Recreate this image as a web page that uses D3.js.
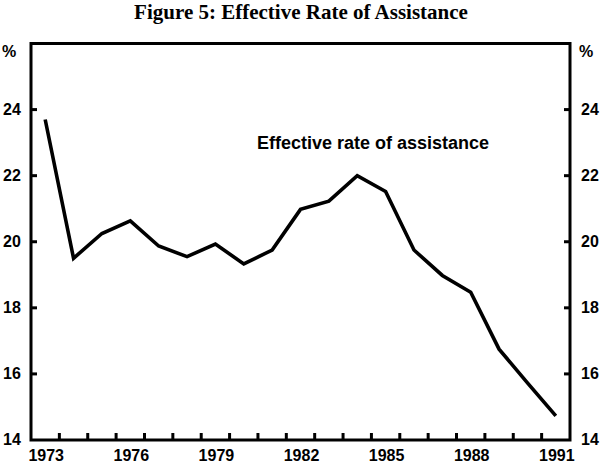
<!DOCTYPE html>
<html>
<head>
<meta charset="utf-8">
<script src="https://cdn.jsdelivr.net/npm/d3@7"></script>
<style>
  body { margin: 0; background: #fff; }
  text { font-family: "Liberation Sans", Arial, sans-serif; font-weight: bold; fill: #000; }
</style>
</head>
<body>
<div class="chart"></div>
<script>
const width = 600;
const height = 463;
const margin = { top: 43.5, right: 30, bottom: 23, left: 31 };

const years = [1973, 1974, 1975, 1976, 1977, 1978, 1979, 1980, 1981, 1982,
  1983, 1984, 1985, 1986, 1987, 1988, 1989, 1990, 1991];
const rates = [23.7, 19.5, 20.25, 20.63, 19.87, 19.55, 19.93, 19.33, 19.75, 20.98,
  21.23, 22.0, 21.52, 19.75, 18.98, 18.47, 16.75, 15.73, 14.73];
const yTicks = [14, 16, 18, 20, 22, 24];
const xLabels = [1973, 1976, 1979, 1982, 1985, 1988, 1991];

const svg = d3.select('.chart')
  .append('svg')
  .attr('width', width)
  .attr('height', height);

// band per year, ticks sit on the band edges
const xScale = d3.scaleBand()
  .domain(years)
  .range([margin.left, width - margin.right])
  .padding(0);

const yScale = d3.scaleLinear()
  .domain([14, 26])
  .range([height - margin.bottom, margin.top]);

const x0 = margin.left;
const x1 = width - margin.right;
const y0 = height - margin.bottom;
const y1 = margin.top;

// title
svg.append('text')
  .attr('x', 301)
  .attr('y', 19)
  .attr('text-anchor', 'middle')
  .style('font-family', '"Liberation Serif", "Times New Roman", serif')
  .style('font-size', '21px')
  .text('Figure 5: Effective Rate of Assistance');

// frame
svg.append('rect')
  .attr('x', x0)
  .attr('y', y1)
  .attr('width', x1 - x0)
  .attr('height', y0 - y1)
  .attr('fill', 'none')
  .attr('stroke', '#000')
  .attr('stroke-width', 3);

// y ticks both sides
const tickLen = 6;
svg.append('g')
  .selectAll('line')
  .data(yTicks.slice(1))
  .enter()
  .append('line')
  .attr('x1', x0)
  .attr('x2', x0 + tickLen)
  .attr('y1', (d) => yScale(d))
  .attr('y2', (d) => yScale(d))
  .attr('stroke', '#000')
  .attr('stroke-width', 3);

svg.append('g')
  .selectAll('line')
  .data(yTicks.slice(1))
  .enter()
  .append('line')
  .attr('x1', x1)
  .attr('x2', x1 - tickLen)
  .attr('y1', (d) => yScale(d))
  .attr('y2', (d) => yScale(d))
  .attr('stroke', '#000')
  .attr('stroke-width', 3);

// y labels
svg.append('g')
  .selectAll('text')
  .data(yTicks)
  .enter()
  .append('text')
  .attr('x', 12)
  .attr('y', (d) => yScale(d) + 5)
  .attr('text-anchor', 'middle')
  .style('font-size', '16px')
  .text((d) => d);

svg.append('g')
  .selectAll('text')
  .data(yTicks)
  .enter()
  .append('text')
  .attr('x', 590)
  .attr('y', (d) => yScale(d) + 5)
  .attr('text-anchor', 'middle')
  .style('font-size', '16px')
  .text((d) => d);

svg.append('text').attr('x', 2).attr('y', 57).style('font-size', '16px').text('%');
svg.append('text').attr('x', 579).attr('y', 57).style('font-size', '16px').text('%');

// x ticks at inner band edges
svg.append('g')
  .selectAll('line')
  .data(years.slice(1))
  .enter()
  .append('line')
  .attr('x1', (d) => xScale(d))
  .attr('x2', (d) => xScale(d))
  .attr('y1', y0)
  .attr('y2', y0 - 7)
  .attr('stroke', '#000')
  .attr('stroke-width', 3);

svg.append('g')
  .selectAll('text')
  .data(xLabels)
  .enter()
  .append('text')
  .attr('x', (d) => xScale(d) + xScale.bandwidth() / 2 + 1)
  .attr('y', 461)
  .attr('text-anchor', 'middle')
  .style('font-size', '16px')
  .text((d) => d);

// series
const line = d3.line()
  .x((d, i) => xScale(years[i]) + xScale.bandwidth() / 2)
  .y((d) => yScale(d));

svg.append('path')
  .datum(rates)
  .attr('d', line)
  .attr('fill', 'none')
  .attr('stroke', '#000')
  .attr('stroke-width', 3.6)
  .attr('stroke-linejoin', 'miter');

svg.append('text')
  .attr('x', 257)
  .attr('y', 149)
  .style('font-size', '18px')
  .text('Effective rate of assistance');
</script>
</body>
</html>
